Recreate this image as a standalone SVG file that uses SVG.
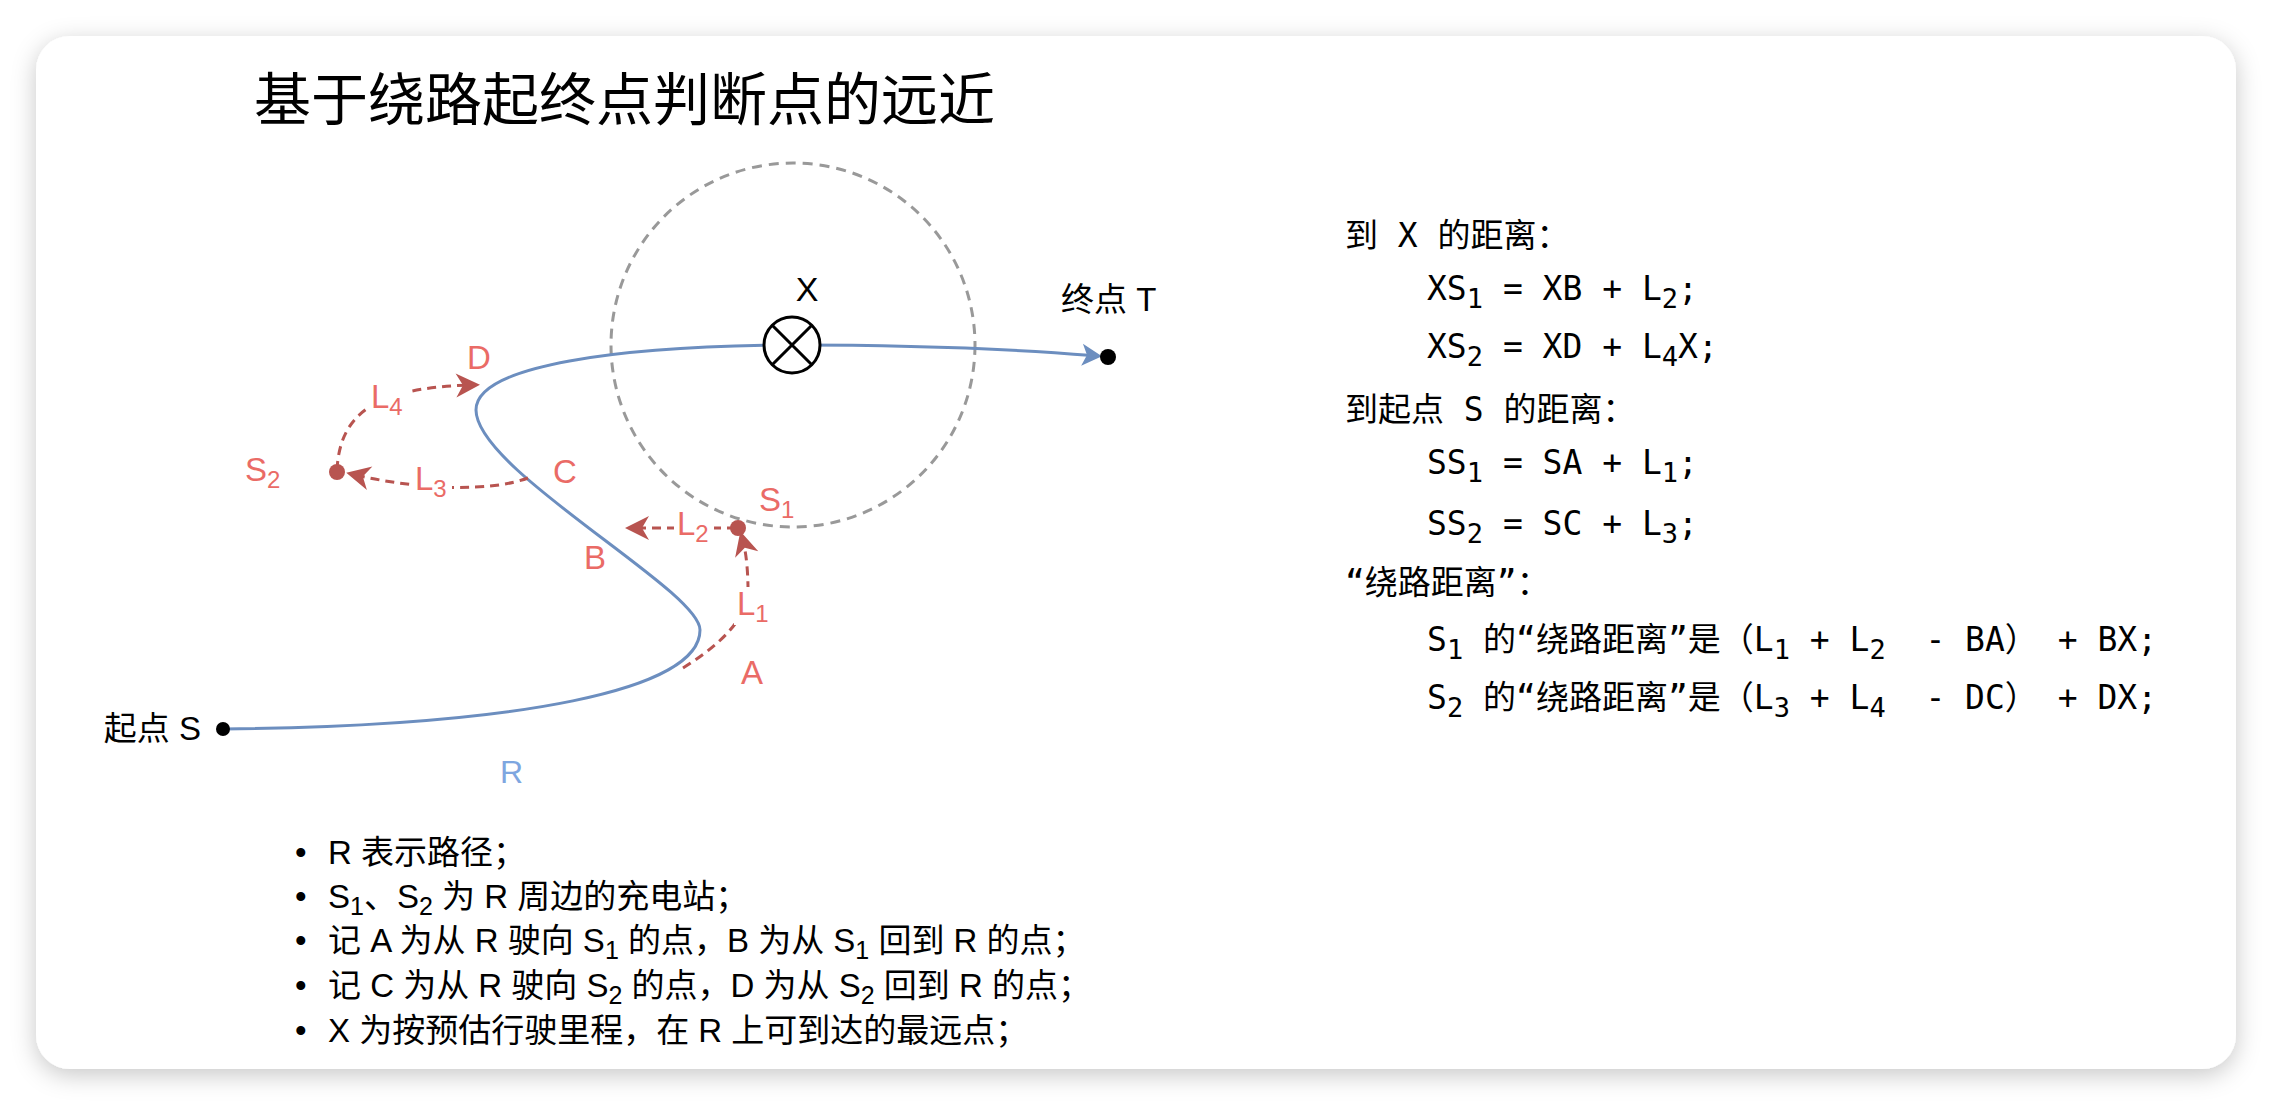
<svg xmlns="http://www.w3.org/2000/svg" width="2272" height="1106" viewBox="0 0 2272 1106">
<style>
.title{font-family:"Noto Sans CJK SC",sans-serif;font-size:57px;fill:#000}
.lbl{font-family:"Liberation Sans","Noto Sans CJK SC",sans-serif;font-size:33px;fill:#EA6B66}
.blk{font-family:"Liberation Sans","Noto Sans CJK SC",sans-serif;font-size:33px;fill:#000}
.mono{font-family:"DejaVu Sans Mono","Noto Sans CJK SC",monospace;font-size:33px;fill:#000;white-space:pre}
.bul{font-family:"Liberation Sans","Noto Sans CJK SC",sans-serif;font-size:33px;fill:#000}
.sub{font-size:24px}
.msub{font-size:27px}
.bsub{font-size:25px}
.red{fill:none;stroke:#b85450;stroke-width:3;stroke-dasharray:9 6}
.route{fill:none;stroke:#6c8ebf;stroke-width:3}
.bg{fill:#fff}
</style>
<defs>
<filter id="sh" x="-5%" y="-5%" width="110%" height="115%">
<feDropShadow dx="0" dy="6" stdDeviation="12" flood-color="#000" flood-opacity="0.22"/>
</filter>
<marker id="arrRed" markerUnits="userSpaceOnUse" markerWidth="32" markerHeight="32" viewBox="-28 -16 32 32" refX="-10" refY="0" orient="auto">
<path d="M0,0 L-24,-12 L-17,0 L-24,12 Z" fill="#b85450"/>
</marker>
<marker id="arrBlue" markerUnits="userSpaceOnUse" markerWidth="30" markerHeight="30" viewBox="-26 -15 30 30" refX="-10" refY="0" orient="auto">
<path d="M0,0 L-20,-11 L-15,0 L-20,11 Z" fill="#6c8ebf"/>
</marker>
</defs>
<rect width="2272" height="1106" fill="#fff"/>
<rect id="card" x="36" y="36" width="2200" height="1033" rx="34" fill="#fff" filter="url(#sh)"/>

<g id="title"><text class="title" x="254" y="120">基于绕路起终点判断点的远近</text></g>

<g id="range-circle"><circle cx="793" cy="345" r="182" fill="none" stroke="#999" stroke-width="3" stroke-dasharray="10 7"/></g>

<g id="connectors">
<path id="route-R" class="route" d="M 223 729 C 520 726 700 690 700 630 C 700 590 476 470 476 410 C 476 365 620 346 792 345 C 900 345 1000 348 1092 355.5" marker-end="url(#arrBlue)"/>
<path id="L1" class="red" d="M 683 668 C 720 645 748 618 748 590 C 748 570 746 552 743 541" marker-end="url(#arrRed)"/>
<path id="L2" class="red" d="M 736 528 L 635 528" marker-end="url(#arrRed)"/>
<path id="L3" class="red" d="M 528 478 C 490 492 420 490 356 475" marker-end="url(#arrRed)"/>
<path id="L4" class="red" d="M 337 470 C 340 410 380 388 470 385" marker-end="url(#arrRed)"/>
</g>

<g id="edge-labels">
<rect class="bg" x="674" y="508" width="40" height="38"/>
<text class="lbl" x="677" y="535">L<tspan class="sub" dy="7">2</tspan></text>
<rect class="bg" x="734" y="587" width="36" height="38"/>
<text class="lbl" x="737" y="615">L<tspan class="sub" dy="7">1</tspan></text>
<rect class="bg" x="412" y="462" width="40" height="38"/>
<text class="lbl" x="415" y="490">L<tspan class="sub" dy="7">3</tspan></text>
<rect class="bg" x="368" y="379" width="40" height="39"/>
<text class="lbl" x="371" y="408">L<tspan class="sub" dy="7">4</tspan></text>
<text class="lbl" x="741" y="684">A</text>
<text class="lbl" x="584" y="569">B</text>
<text class="lbl" x="553" y="483">C</text>
<text class="lbl" x="467" y="369">D</text>
<text x="500" y="783" style="font-family:'Liberation Sans',sans-serif;font-size:32px;fill:#7EA6E0">R</text>
</g>

<g id="node-start">
<circle cx="223" cy="729" r="7" fill="#000"/>
<text class="blk" x="201" y="740" text-anchor="end">起点 S</text>
</g>
<g id="node-end">
<circle cx="1108" cy="357" r="8" fill="#000"/>
<text class="blk" x="1061" y="311">终点 T</text>
</g>
<g id="node-X">
<circle cx="792" cy="345" r="28" fill="#fff" stroke="#000" stroke-width="3"/>
<path d="M 772.2 325.2 L 811.8 364.8 M 811.8 325.2 L 772.2 364.8" stroke="#000" stroke-width="3"/>
<text x="807" y="301" text-anchor="middle" style="font-family:'Liberation Sans',sans-serif;font-size:34px">X</text>
</g>
<g id="node-S1">
<circle cx="738" cy="528" r="8" fill="#b85450"/>
<text class="lbl" x="759" y="511">S<tspan class="sub" dy="7">1</tspan></text>
</g>
<g id="node-S2">
<circle cx="337" cy="472" r="8" fill="#b85450"/>
<text class="lbl" x="245" y="481">S<tspan class="sub" dy="7">2</tspan></text>
</g>

<g id="formulas">
<text class="mono" x="1345" y="247" xml:space="preserve">到 X 的距离：</text>
<text class="mono" x="1427" y="300" xml:space="preserve">XS<tspan class="msub" dy="8">1</tspan><tspan dy="-8"> = XB + L</tspan><tspan class="msub" dy="8">2</tspan><tspan dy="-8">;</tspan></text>
<text class="mono" x="1427" y="358" xml:space="preserve">XS<tspan class="msub" dy="8">2</tspan><tspan dy="-8"> = XD + L</tspan><tspan class="msub" dy="8">4</tspan><tspan dy="-8">X;</tspan></text>
<text class="mono" x="1345" y="421" xml:space="preserve">到起点 S 的距离：</text>
<text class="mono" x="1427" y="474" xml:space="preserve">SS<tspan class="msub" dy="8">1</tspan><tspan dy="-8"> = SA + L</tspan><tspan class="msub" dy="8">1</tspan><tspan dy="-8">;</tspan></text>
<text class="mono" x="1427" y="535" xml:space="preserve">SS<tspan class="msub" dy="8">2</tspan><tspan dy="-8"> = SC + L</tspan><tspan class="msub" dy="8">3</tspan><tspan dy="-8">;</tspan></text>
<text class="mono" x="1345" y="594" xml:space="preserve">“绕路距离”：</text>
<text class="mono" x="1427" y="651" xml:space="preserve">S<tspan class="msub" dy="8">1</tspan><tspan dy="-8"> 的“绕路距离”是（L</tspan><tspan class="msub" dy="8">1</tspan><tspan dy="-8"> + L</tspan><tspan class="msub" dy="8">2</tspan><tspan dy="-8">  - BA） + BX;</tspan></text>
<text class="mono" x="1427" y="709" xml:space="preserve">S<tspan class="msub" dy="8">2</tspan><tspan dy="-8"> 的“绕路距离”是（L</tspan><tspan class="msub" dy="8">3</tspan><tspan dy="-8"> + L</tspan><tspan class="msub" dy="8">4</tspan><tspan dy="-8">  - DC） + DX;</tspan></text>
</g>

<g id="notes">
<text class="bul" x="295" y="864">•</text>
<text class="bul" x="328" y="864">R 表示路径；</text>
<text class="bul" x="295" y="908">•</text>
<text class="bul" x="328" y="908">S<tspan class="bsub" dy="7">1</tspan><tspan dy="-7">、S</tspan><tspan class="bsub" dy="7">2</tspan><tspan dy="-7"> 为 R 周边的充电站；</tspan></text>
<text class="bul" x="295" y="952">•</text>
<text class="bul" x="328" y="952">记 A 为从 R 驶向 S<tspan class="bsub" dy="7">1</tspan><tspan dy="-7"> 的点，B 为从 S</tspan><tspan class="bsub" dy="7">1</tspan><tspan dy="-7"> 回到 R 的点；</tspan></text>
<text class="bul" x="295" y="997">•</text>
<text class="bul" x="328" y="997">记 C 为从 R 驶向 S<tspan class="bsub" dy="7">2</tspan><tspan dy="-7"> 的点，D 为从 S</tspan><tspan class="bsub" dy="7">2</tspan><tspan dy="-7"> 回到 R 的点；</tspan></text>
<text class="bul" x="295" y="1042">•</text>
<text class="bul" x="328" y="1042">X 为按预估行驶里程，在 R 上可到达的最远点；</text>
</g>
</svg>
